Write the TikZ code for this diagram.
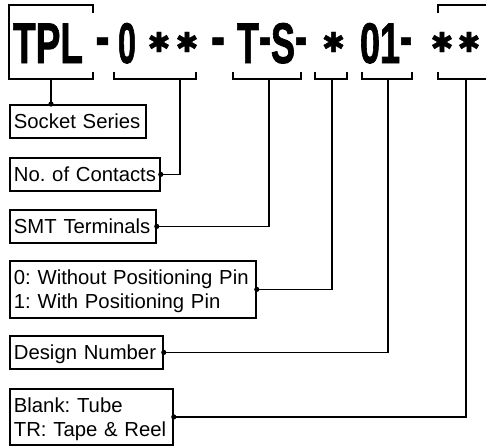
\documentclass[tikz,border=0pt]{standalone}
\usepackage{fontspec}
\usepackage{graphicx}
\setmainfont{Liberation Sans}
\frenchspacing
\newfontfamily\pnfont[BoldFeatures={FakeBold=1.6}]{Liberation Sans}
\newfontfamily\symfont[FakeBold=1.5]{DejaVu Sans}
\newcommand\pnbig{\pnfont\bfseries\fontsize{57.3}{60}\selectfont}
\newcommand\pnpart[2]{\resizebox{#1}{\height}{\pnbig #2}}
\newcommand\pnstar{\resizebox*{!}{20pt}{\symfont ✱}}
\newcommand\pndash{\raisebox{7pt}{-}}
\tikzset{
  part/.style={inner sep=0pt, anchor=base},
  star/.style={inner sep=0pt, anchor=center},
  lbl/.style={draw, line width=1.8pt, anchor=north west, inner xsep=4pt, inner ysep=0pt,
    font=\fontsize{20.3}{24}\selectfont, align=left},
  one/.style={text height=14.6pt, text depth=0pt},
  two/.style={text height=14.6pt, text depth=24pt},
  brk/.style={line width=1.8pt},
  conn/.style={line width=1.8pt},
  dot/.style={fill=black, radius=2.6pt}
}
\begin{document}
\begin{tikzpicture}[x=1pt,y=-1pt]
\fill[white] (0,0) rectangle (486,445);
\begin{scope}
\clip (0,0) rectangle (486,445);
% part number text
\node[part] (tpl) at (48,63) {\pnpart{70pt}{TPL}};
\node[part] (d1) at (102.5,63) {\pnpart{14pt}{\pndash}};
\node[part] (zero) at (127,63) {\pnpart{18pt}{0}};
\node[star] (s1) at (159,42) {\pnstar};
\node[star] (s2) at (187,42) {\pnstar};
\node[part] (d2) at (218,63) {\pnpart{14pt}{\pndash}};
\node[part] (ts) at (272,63) {\pnpart{70pt}{T\pndash S\pndash}};
\node[star] (s3) at (333.5,42) {\pnstar};
\node[part] (zo) at (386,63) {\pnpart{52pt}{01\pndash}};
\node[star] (s4) at (442,42) {\pnstar};
\node[star] (s5) at (469,42) {\pnstar};
% brackets
\draw[brk] (93,13) -- (93,5) -- (9,5) -- (9,79) -- (93,79) -- (93,72);
\draw[brk] (114,72) -- (114,79) -- (196,79) -- (196,72);
\draw[brk] (233,72) -- (233,79) -- (301,79) -- (301,72);
\draw[brk] (315,72) -- (315,79) -- (347,79) -- (347,72);
\draw[brk] (362,72) -- (362,79) -- (412,79) -- (412,72);
\draw[brk] (438,13) -- (438,5) -- (492,5);
\draw[brk] (438,72) -- (438,79) -- (492,79);
\coordinate (t1) at (51,79);
\coordinate (t2) at (180,79);
\coordinate (t3) at (269,79);
\coordinate (t4) at (332,79);
\coordinate (t5) at (388,79);
\coordinate (t6) at (466,79);
% boxes
\node[lbl, one, text width=128pt, minimum height=33pt] (b1) at (9,104) {\mbox{Socket Series}};
\node[lbl, one, text width=142pt, minimum height=33pt] (b2) at (9,157) {\mbox{No. of Contacts}};
\node[lbl, one, text width=138pt, minimum height=33pt] (b3) at (9,209) {\mbox{SMT Terminals}};
\node[lbl, two, text width=238pt, minimum height=57pt] (b4) at (9,260) {\mbox{0: Without Positioning Pin}\\\mbox{1: With Positioning Pin}};
\node[lbl, one, text width=145pt, minimum height=33pt] (b5) at (9,335) {\mbox{Design Number}};
\node[lbl, two, text width=155pt, minimum height=56pt] (b6) at (9,388) {\mbox{Blank: Tube}\\\mbox{TR: Tape \& Reel}};
% connectors
\draw[conn] (t1) -- (t1 |- b1.north);
\fill[dot] (t1 |- b1.north) circle;
\draw[conn] (t2) |- (b2.east);
\fill[dot] (b2.east) circle;
\draw[conn] (t3) |- (b3.east);
\fill[dot] (b3.east) circle;
\draw[conn] (t4) |- (b4.east);
\fill[dot] (b4.east) circle;
\draw[conn] (t5) |- (b5.east);
\fill[dot] (b5.east) circle;
\draw[conn] (t6) |- (b6.east);
\fill[dot] (b6.east) circle;
\end{scope}
\end{tikzpicture}
\end{document}
